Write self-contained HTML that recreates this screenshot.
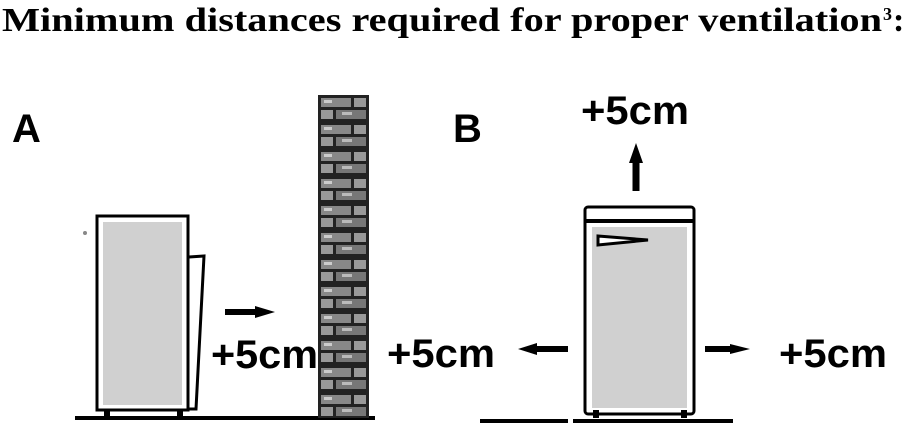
<!DOCTYPE html>
<html><head><style>
html,body{margin:0;padding:0;background:#fff;width:905px;height:432px;overflow:hidden}
</style></head><body>
<svg width="905" height="432" viewBox="0 0 905 432" xmlns="http://www.w3.org/2000/svg">
<defs>
<pattern id="brick" x="318" y="95" width="51" height="27" patternUnits="userSpaceOnUse">
<rect width="51" height="27" fill="#222"/>
<rect x="3" y="3" width="30" height="9" fill="#888"/>
<rect x="36" y="3" width="12" height="9" fill="#999"/>
<rect x="3" y="15" width="12" height="9" fill="#999"/>
<rect x="18" y="15" width="30" height="9" fill="#777"/>
<rect x="6" y="5" width="8" height="3" fill="#ccc"/>
<rect x="24" y="17" width="10" height="3" fill="#bbb"/>
</pattern>
</defs>
<text x="2" y="31" font-family="Liberation Serif, serif" font-weight="bold" font-size="34" textLength="880" lengthAdjust="spacingAndGlyphs">Minimum distances required for proper ventilation</text>
<text x="883" y="20" font-family="Liberation Serif, serif" font-weight="bold" font-size="18">3</text>
<text x="893" y="31" font-family="Liberation Serif, serif" font-weight="bold" font-size="34">:</text>

<g font-family="Liberation Sans, sans-serif" font-weight="bold" fill="#000">
<text x="12" y="142" font-size="40">A</text>
<text x="453" y="142" font-size="40">B</text>
<text x="211" y="368" font-size="40" textLength="107" lengthAdjust="spacingAndGlyphs">+5cm</text>
<text x="387" y="367" font-size="40" textLength="108" lengthAdjust="spacingAndGlyphs">+5cm</text>
<text x="581" y="124" font-size="40" textLength="108" lengthAdjust="spacingAndGlyphs">+5cm</text>
<text x="779" y="367" font-size="40" textLength="108" lengthAdjust="spacingAndGlyphs">+5cm</text>
</g>

<!-- Fridge A -->
<line x1="75" y1="418" x2="375" y2="418" stroke="#000" stroke-width="4"/>
<rect x="97" y="216" width="91" height="194" fill="#fff" stroke="#000" stroke-width="3"/>
<rect x="103" y="222" width="79" height="183" fill="#d0d0d0"/>
<rect x="104" y="410" width="6" height="6" fill="#000"/>
<rect x="177" y="410" width="6" height="6" fill="#000"/>
<polyline points="189,257 204,256 196,409 189,409" fill="none" stroke="#000" stroke-width="3"/>
<circle cx="85" cy="233" r="2" fill="#888"/>
<line x1="225" y1="312" x2="258" y2="312" stroke="#000" stroke-width="6"/>
<polygon points="255,306 275,312 255,318" fill="#000"/>
<rect x="318" y="95" width="51" height="323" fill="url(#brick)"/>

<!-- Fridge B -->
<line x1="480" y1="421" x2="568" y2="421" stroke="#000" stroke-width="4"/>
<line x1="573" y1="421" x2="733" y2="421" stroke="#000" stroke-width="4"/>
<rect x="585" y="207" width="109" height="207" rx="3" fill="#fff" stroke="#000" stroke-width="3"/>
<rect x="586" y="219" width="107" height="4" fill="#000"/>
<rect x="592" y="227" width="95" height="181" fill="#d0d0d0"/>
<rect x="593" y="410" width="6" height="8" fill="#000"/>
<rect x="681" y="410" width="6" height="8" fill="#000"/>
<polygon points="598,236 648,240 598,245" fill="#fff" stroke="#000" stroke-width="3"/>
<line x1="636" y1="191" x2="636" y2="160" stroke="#000" stroke-width="7"/>
<polygon points="629,163 636,143 643,163" fill="#000"/>
<line x1="568" y1="349" x2="533" y2="349" stroke="#000" stroke-width="6"/>
<polygon points="537,343 518,349 537,355" fill="#000"/>
<line x1="705" y1="349" x2="733" y2="349" stroke="#000" stroke-width="6"/>
<polygon points="730,344 750,349 730,354" fill="#000"/>
</svg>
</body></html>
